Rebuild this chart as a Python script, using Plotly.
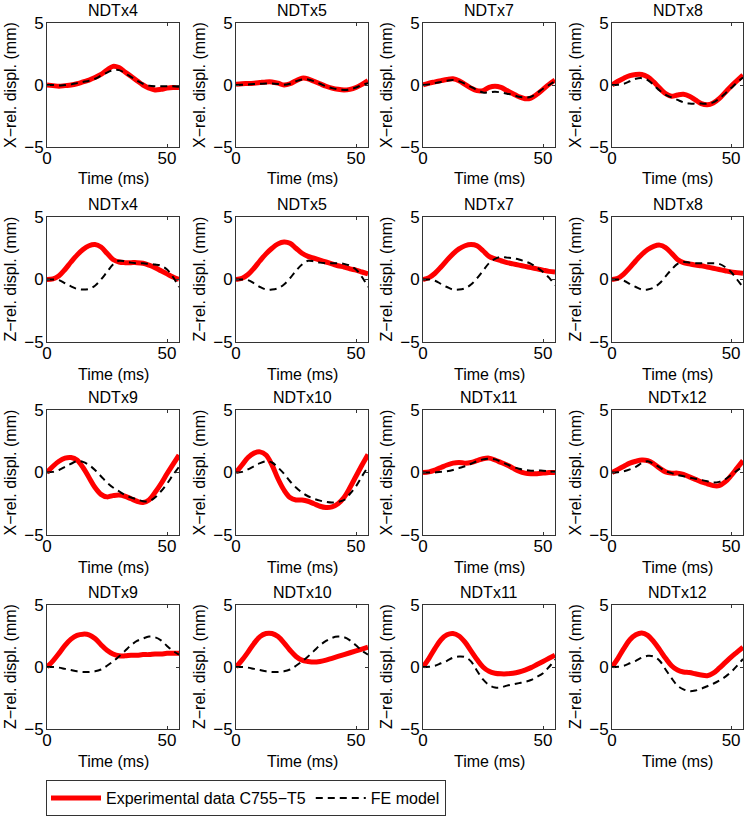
import plotly.graph_objects as go

# ---------------- data ----------------
time_ms = [0, 2.5, 5, 7.5, 10, 12.5, 15, 17.5, 20, 22.5, 25, 27.5, 30,
           32.5, 35, 37.5, 40, 42.5, 45, 47.5, 50, 52.5, 55]

titles = ["NDTx4", "NDTx5", "NDTx7", "NDTx8",
          "NDTx4", "NDTx5", "NDTx7", "NDTx8",
          "NDTx9", "NDTx10", "NDTx11", "NDTx12",
          "NDTx9", "NDTx10", "NDTx11", "NDTx12"]
row_ylabels = ["X−rel. displ. (mm)", "Z−rel. displ. (mm)",
               "X−rel. displ. (mm)", "Z−rel. displ. (mm)"]
xlabel = "Time (ms)"
x_ticks = [0, 50]
y_ticks = [-5, 0, 5]
y_ticklabels = ["−5", "0", "5"]

# Row 1: X displacement NDTx4, 5, 7, 8
exp_x_ndtx4 = [0, -0.05, -0.1, -0.05, 0, 0.1, 0.25, 0.4, 0.6, 0.85, 1.2, 1.5, 1.4, 1.05, 0.7, 0.35, 0.0, -0.25, -0.4, -0.35, -0.25, -0.2, -0.2]
fe_x_ndtx4 = [0, 0, -0.05, 0, 0.05, 0.15, 0.25, 0.35, 0.5, 0.75, 1.0, 1.2, 1.2, 0.95, 0.65, 0.35, 0.1, -0.05, -0.1, -0.1, -0.1, -0.1, -0.15]
exp_x_ndtx5 = [0.05, 0.1, 0.12, 0.15, 0.2, 0.25, 0.25, 0.15, 0.0, 0.1, 0.35, 0.55, 0.5, 0.3, 0.1, -0.1, -0.25, -0.35, -0.4, -0.35, -0.2, 0.05, 0.35]
fe_x_ndtx5 = [0, 0.02, 0.05, 0.08, 0.1, 0.12, 0.12, 0.08, 0.02, 0.1, 0.3, 0.45, 0.45, 0.3, 0.1, -0.1, -0.25, -0.35, -0.4, -0.35, -0.2, 0.0, 0.15]
exp_x_ndtx7 = [0, 0.15, 0.25, 0.35, 0.45, 0.5, 0.35, 0.05, -0.25, -0.45, -0.45, -0.2, -0.1, -0.2, -0.45, -0.7, -0.95, -1.1, -1.05, -0.75, -0.35, 0.05, 0.4]
fe_x_ndtx7 = [0, 0.05, 0.15, 0.25, 0.35, 0.4, 0.3, 0.1, -0.15, -0.4, -0.6, -0.6, -0.55, -0.6, -0.7, -0.8, -0.95, -1.0, -0.95, -0.65, -0.3, 0.0, 0.3]
exp_x_ndtx8 = [0, 0.3, 0.55, 0.75, 0.85, 0.85, 0.65, 0.25, -0.25, -0.7, -0.9, -0.8, -0.75, -0.9, -1.2, -1.5, -1.6, -1.45, -1.1, -0.6, -0.1, 0.35, 0.8]
fe_x_ndtx8 = [0, 0.02, 0.1, 0.3, 0.5, 0.55, 0.4, 0.0, -0.45, -0.8, -1.0, -1.2, -1.4, -1.5, -1.5, -1.5, -1.5, -1.4, -1.1, -0.7, -0.25, 0.2, 0.6]

# Row 2: Z displacement NDTx4, 5, 7, 8
exp_z_ndtx4 = [0, 0.05, 0.3, 0.8, 1.4, 1.95, 2.4, 2.7, 2.8, 2.6, 2.1, 1.6, 1.4, 1.35, 1.35, 1.35, 1.3, 1.15, 0.95, 0.7, 0.45, 0.2, 0.0]
fe_z_ndtx4 = [0, 0, -0.05, -0.3, -0.55, -0.75, -0.8, -0.75, -0.5, 0.0, 0.6, 1.2, 1.5, 1.45, 1.35, 1.3, 1.3, 1.25, 1.2, 1.1, 0.8, 0.2, -0.6]
exp_z_ndtx5 = [0, 0.1, 0.4, 0.9, 1.5, 2.05, 2.5, 2.85, 3.0, 2.9, 2.5, 2.1, 1.85, 1.7, 1.55, 1.4, 1.25, 1.1, 1.0, 0.85, 0.75, 0.6, 0.45]
fe_z_ndtx5 = [0, 0, -0.05, -0.3, -0.6, -0.8, -0.8, -0.7, -0.4, 0.1, 0.7, 1.2, 1.5, 1.45, 1.35, 1.3, 1.3, 1.3, 1.25, 1.1, 0.8, 0.2, -0.6]
exp_z_ndtx7 = [0, 0.15, 0.5, 1.0, 1.55, 2.05, 2.45, 2.7, 2.8, 2.7, 2.3, 1.85, 1.65, 1.5, 1.35, 1.25, 1.15, 1.05, 0.95, 0.85, 0.75, 0.65, 0.6]
fe_z_ndtx7 = [0, 0, -0.1, -0.35, -0.6, -0.8, -0.8, -0.7, -0.4, 0.1, 0.7, 1.3, 1.65, 1.8, 1.75, 1.7, 1.6, 1.45, 1.25, 0.95, 0.6, 0.15, -0.45]
exp_z_ndtx8 = [0, 0.1, 0.45, 0.95, 1.5, 2.0, 2.4, 2.65, 2.75, 2.55, 2.1, 1.6, 1.35, 1.25, 1.15, 1.1, 1.0, 0.9, 0.8, 0.7, 0.6, 0.55, 0.5]
fe_z_ndtx8 = [0, 0, -0.1, -0.35, -0.6, -0.8, -0.8, -0.65, -0.3, 0.25, 0.8, 1.25, 1.4, 1.35, 1.3, 1.3, 1.3, 1.3, 1.25, 1.0, 0.6, 0.0, -0.6]

# Row 3: X displacement NDTx9, 10, 11, 12
exp_x_ndtx9 = [0, 0.5, 0.9, 1.15, 1.2, 1.0, 0.4, -0.4, -1.2, -1.75, -1.95, -1.85, -1.8, -1.9, -2.1, -2.3, -2.4, -2.2, -1.6, -0.9, -0.1, 0.65, 1.4]
fe_x_ndtx9 = [0, 0.05, 0.2, 0.45, 0.7, 0.9, 0.85, 0.6, 0.2, -0.3, -0.8, -1.2, -1.5, -1.8, -2.0, -2.15, -2.3, -2.3, -2.0, -1.5, -0.9, -0.2, 0.45]
exp_x_ndtx10 = [0, 0.6, 1.2, 1.55, 1.65, 1.4, 0.6, -0.5, -1.4, -2.0, -2.2, -2.2, -2.3, -2.5, -2.7, -2.8, -2.75, -2.5, -2.0, -1.2, -0.3, 0.6, 1.45]
fe_x_ndtx10 = [0, 0.05, 0.25, 0.5, 0.75, 0.9, 0.8, 0.4, -0.1, -0.7, -1.2, -1.6, -1.9, -2.1, -2.25, -2.35, -2.4, -2.35, -2.2, -1.7, -1.1, -0.3, 0.45]
exp_x_ndtx11 = [0, 0.05, 0.2, 0.4, 0.6, 0.75, 0.8, 0.75, 0.8, 0.95, 1.1, 1.15, 1.0, 0.8, 0.6, 0.35, 0.1, -0.05, -0.1, -0.1, -0.05, 0.0, 0.0]
fe_x_ndtx11 = [0, 0, 0, 0.05, 0.1, 0.2, 0.35, 0.5, 0.7, 0.9, 1.05, 1.1, 1.05, 0.85, 0.65, 0.45, 0.3, 0.2, 0.15, 0.15, 0.15, 0.1, 0.05]
exp_x_ndtx12 = [0, 0.25, 0.5, 0.75, 0.9, 1.0, 0.95, 0.7, 0.35, 0.05, -0.05, -0.05, -0.15, -0.35, -0.55, -0.75, -0.9, -1.05, -1.05, -0.75, -0.25, 0.35, 0.95]
fe_x_ndtx12 = [0, 0.02, 0.1, 0.25, 0.45, 0.75, 0.9, 0.7, 0.4, 0.1, -0.05, -0.2, -0.3, -0.4, -0.5, -0.6, -0.7, -0.8, -0.75, -0.55, -0.2, 0.15, 0.5]

# Row 4: Z displacement NDTx9, 10, 11, 12
exp_z_ndtx9 = [0, 0.5, 1.1, 1.75, 2.25, 2.55, 2.65, 2.6, 2.3, 1.8, 1.35, 1.05, 0.9, 0.9, 0.95, 0.95, 1.0, 1.0, 1.05, 1.05, 1.1, 1.1, 1.1]
fe_z_ndtx9 = [0, 0, -0.05, -0.15, -0.25, -0.35, -0.4, -0.4, -0.35, -0.2, 0.1, 0.45, 0.85, 1.3, 1.75, 2.1, 2.3, 2.45, 2.4, 2.15, 1.7, 1.3, 1.0]
exp_z_ndtx10 = [0, 0.55, 1.2, 1.9, 2.45, 2.7, 2.7, 2.45, 1.95, 1.35, 0.85, 0.55, 0.45, 0.4, 0.45, 0.55, 0.7, 0.85, 1.0, 1.15, 1.3, 1.45, 1.6]
fe_z_ndtx10 = [0, 0, -0.05, -0.15, -0.25, -0.35, -0.4, -0.4, -0.35, -0.2, 0.1, 0.45, 0.85, 1.3, 1.75, 2.1, 2.35, 2.45, 2.4, 2.15, 1.75, 1.3, 1.0]
exp_z_ndtx11 = [0, 0.7, 1.5, 2.2, 2.6, 2.7, 2.5, 2.0, 1.3, 0.6, 0.0, -0.35, -0.5, -0.55, -0.55, -0.5, -0.4, -0.25, -0.05, 0.2, 0.45, 0.7, 0.95]
fe_z_ndtx11 = [0, 0.02, 0.1, 0.3, 0.5, 0.75, 0.85, 0.8, 0.45, -0.3, -1.0, -1.45, -1.65, -1.65, -1.5, -1.4, -1.3, -1.2, -1.05, -0.8, -0.5, 0.0, 0.6]
exp_z_ndtx12 = [0, 0.7, 1.5, 2.2, 2.6, 2.75, 2.55, 2.05, 1.4, 0.7, 0.1, -0.25, -0.4, -0.45, -0.55, -0.65, -0.7, -0.5, -0.1, 0.35, 0.8, 1.2, 1.6]
fe_z_ndtx12 = [0, 0.02, 0.1, 0.3, 0.5, 0.75, 0.9, 0.85, 0.5, -0.2, -0.9, -1.5, -1.8, -1.95, -1.9, -1.75, -1.55, -1.35, -1.1, -0.8, -0.4, 0.1, 0.65]

exp_series = [exp_x_ndtx4, exp_x_ndtx5, exp_x_ndtx7, exp_x_ndtx8,
              exp_z_ndtx4, exp_z_ndtx5, exp_z_ndtx7, exp_z_ndtx8,
              exp_x_ndtx9, exp_x_ndtx10, exp_x_ndtx11, exp_x_ndtx12,
              exp_z_ndtx9, exp_z_ndtx10, exp_z_ndtx11, exp_z_ndtx12]
fe_series = [fe_x_ndtx4, fe_x_ndtx5, fe_x_ndtx7, fe_x_ndtx8,
             fe_z_ndtx4, fe_z_ndtx5, fe_z_ndtx7, fe_z_ndtx8,
             fe_x_ndtx9, fe_x_ndtx10, fe_x_ndtx11, fe_x_ndtx12,
             fe_z_ndtx9, fe_z_ndtx10, fe_z_ndtx11, fe_z_ndtx12]

legend_names = ["Experimental data C755−T5", "FE model"]

# ---------------- layout ----------------
W, H = 747, 817
FONT = "Liberation Sans, Arial, Helvetica, sans-serif"
col_px = [(47, 179), (236, 368), (423, 555), (612, 743)]
row_px = [(23, 147), (217, 342), (410, 535), (605, 729)]

fig = go.Figure()
layout = dict(
    width=W, height=H,
    margin=dict(l=0, r=0, t=0, b=0, autoexpand=False),
    paper_bgcolor="white", plot_bgcolor="white",
    font=dict(family=FONT, size=16, color="black"),
    showlegend=True,
    legend=dict(orientation="h", x=46 / W, xanchor="left",
                y=1 / H, yanchor="bottom",
                bordercolor="#333", borderwidth=1,
                font=dict(size=16, family=FONT),
                itemwidth=50, tracegroupgap=0,
                bgcolor="white"),
)
annotations = []

for i in range(16):
    r, c = divmod(i, 4)
    n = i + 1
    xa = "x" if n == 1 else f"x{n}"
    ya = "y" if n == 1 else f"y{n}"
    x0, x1 = col_px[c]
    y0, y1 = row_px[r]
    axis_common = dict(showline=True, linecolor="#333", linewidth=1,
                       mirror="ticks", ticks="inside", ticklen=3,
                       tickcolor="#333", showgrid=False, zeroline=False,
                       tickfont=dict(size=17, family=FONT, color="black"))
    layout["xaxis" if n == 1 else f"xaxis{n}"] = dict(
        domain=[x0 / W, x1 / W], range=[0, 55], anchor=ya,
        tickvals=x_ticks, ticktext=[str(v) for v in x_ticks],
        ticklabelstandoff=-4, **axis_common)
    layout["yaxis" if n == 1 else f"yaxis{n}"] = dict(
        domain=[1 - y1 / H, 1 - y0 / H], range=[-5, 5], anchor=xa,
        tickvals=y_ticks, ticktext=y_ticklabels,
        ticklabelstandoff=-1, **axis_common)

    fig.add_trace(go.Scatter(
        x=time_ms, y=exp_series[i], mode="lines", line_shape="spline",
        line=dict(color="#ff0000", width=5), xaxis=xa, yaxis=ya,
        name=legend_names[0], legendgroup="exp", showlegend=(i == 0)))
    fig.add_trace(go.Scatter(
        x=time_ms, y=fe_series[i], mode="lines", line_shape="spline",
        line=dict(color="black", width=2, dash="7px,5px"), xaxis=xa, yaxis=ya,
        name=legend_names[1], legendgroup="fe", showlegend=(i == 0)))

    cx = (x0 + x1) / 2 / W
    cy = 1 - (y0 + y1) / 2 / H
    annotations.append(dict(text=titles[i], x=cx, y=1 - (y0 - 13) / H,
                            xref="paper", yref="paper", showarrow=False,
                            xanchor="center", yanchor="middle",
                            font=dict(size=16, family=FONT)))
    annotations.append(dict(text=xlabel, x=cx, y=1 - (y1 + 32) / H,
                            xref="paper", yref="paper", showarrow=False,
                            xanchor="center", yanchor="middle",
                            font=dict(size=16, family=FONT)))
    annotations.append(dict(text=row_ylabels[r], x=(x0 - 37) / W, y=cy,
                            xref="paper", yref="paper", showarrow=False,
                            textangle=-90, xanchor="center", yanchor="middle",
                            font=dict(size=16, family=FONT)))

layout["annotations"] = annotations
fig.update_layout(**layout)
fig.write_html("out.html",
               config={"displayModeBar": False},
               post_script="document.body.style.margin='0';"
                           "document.body.style.overflow='hidden';")
